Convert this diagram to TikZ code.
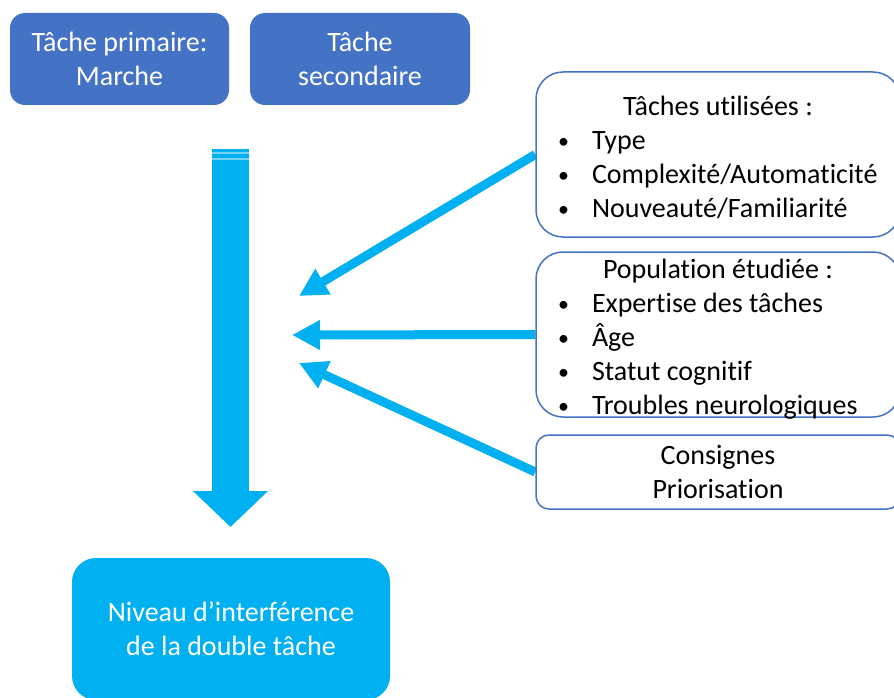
\documentclass[tikz,border=0pt]{standalone}
\usepackage{fontspec}
\setmainfont{Carlito}[Ligatures={NoCommon,NoContextual}]
\usetikzlibrary{arrows.meta}
\definecolor{dblue}{HTML}{4472C4}
\definecolor{lblue}{HTML}{00B0F0}
\newcommand\bitem[1]{\par\hspace*{22pt}\makebox[34pt][l]{\raisebox{1pt}{\fontsize{22}{34}\selectfont •}}#1}
\newcommand\shiftdown[2]{\raisebox{-#1}[\height][\depth]{#2}}
\pgfdeclarelayer{bg}
\pgfsetlayers{bg,main}
\begin{document}
\begin{tikzpicture}[x=1pt,y=-1pt,
  every node/.style={font=\fontsize{28}{34}\selectfont, inner sep=0pt},
  topbox/.style={fill=dblue, rounded corners=15pt, text=white, align=center},
  botbox/.style={fill=lblue, rounded corners=24pt, text=white, align=center},
  rbox/.style={draw=dblue, line width=1.5pt, fill=white, text=black},
  side/.style={lblue, line width=9pt, -{Triangle[length=28pt,width=28pt]}},
  bigarrow/.style={lblue, line width=37pt, -{Triangle[length=36pt,width=73pt]}}]
\useasboundingbox (0,0) rectangle (894,698);

\node[topbox, minimum width=219pt, minimum height=92pt] (prim) at (119.5,59) {Tâche primaire:\\Marche};
\node[topbox, minimum width=220pt, minimum height=92pt] (sec) at (360,59) {Tâche\\secondaire};
\node[botbox, minimum width=318pt, minimum height=142pt] (niv) at (231,629) {Niveau d’interférence\\de la double tâche};

\node[rbox, rounded corners=27pt, minimum width=364pt, minimum height=165pt] (tach) at (718,154.5)
 {\shiftdown{3pt}{\begin{minipage}{364pt}\centering Tâches utilisées :\par\raggedright
  \bitem{Type}\bitem{Complexité/Automaticité}\bitem{Nouveauté/Familiarité}\end{minipage}}};
\node[rbox, rounded corners=27pt, minimum width=364pt, minimum height=165pt] (pop) at (718,334.5)
 {\shiftdown{5pt}{\begin{minipage}{364pt}\centering Population étudiée :\par\raggedright
  \bitem{Expertise des tâches}\bitem{Âge}\bitem{Statut cognitif}\bitem{Troubles neurologiques}\end{minipage}}};
\node[rbox, rounded corners=13pt, minimum width=364pt, minimum height=74pt, align=center] (cons) at (718,472)
 {Consignes\\Priorisation};

\coordinate (t1) at (299,296);
\coordinate (t2) at (292,335);
\coordinate (t3) at (299,363);
\coordinate (vtop) at (230.5,149);
\coordinate (vtip) at (230.5,527);

\begin{pgfonlayer}{bg}
\fill[white] (0,0) rectangle (894,698);
\draw[side] (tach.west) -- (t1);
\draw[side] (pop.west) -- (t2);
\draw[side] (cons.west) -- (t3);
\end{pgfonlayer}

\draw[bigarrow] (vtop) -- (vtip);
\draw[white, opacity=0.45, line width=1.2pt] ([xshift=-18.5pt,yshift=-4pt]vtop) -- ([xshift=18.5pt,yshift=-4pt]vtop);
\draw[white, opacity=0.45, line width=1.2pt] ([xshift=-18.5pt,yshift=-10pt]vtop) -- ([xshift=18.5pt,yshift=-10pt]vtop);
\end{tikzpicture}
\end{document}
